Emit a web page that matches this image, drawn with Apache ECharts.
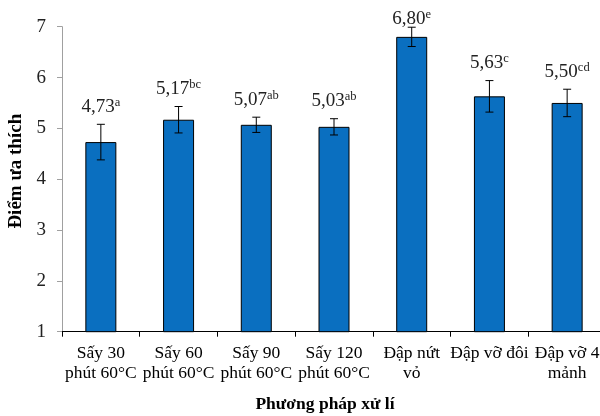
<!DOCTYPE html>
<html>
<head>
<meta charset="utf-8">
<script src="https://cdn.jsdelivr.net/npm/echarts@6/dist/echarts.min.js"></script>
<style>html,body{margin:0;padding:0;background:#fff}#c{width:600px;height:416px}</style>
</head>
<body>
<div id="c"></div>
<script>
const categories = ['Sấy 30\nphút 60°C', 'Sấy 60\nphút 60°C', 'Sấy 90\nphút 60°C', 'Sấy 120\nphút 60°C', 'Đập nứt\nvỏ', 'Đập vỡ đôi', 'Đập vỡ 4\nmảnh'];
const means = [4.73, 5.17, 5.07, 5.03, 6.80, 5.63, 5.50];
const errors = [0.35, 0.26, 0.15, 0.16, 0.19, 0.31, 0.27];
const letters = ['a', 'bc', 'ab', 'ab', 'e', 'c', 'cd'];
const yTicks = [1, 7, 1];

const FONT = '"Liberation Serif", "Times New Roman", serif';
const chart = echarts.init(document.getElementById('c'), null, {renderer: 'canvas'});

const errData = means.map((v, i) => [i, v, errors[i]]);

chart.setOption({
  animation: false,
  grid: {left: 62, top: 26.7, width: 544, bottom: 84.3, containLabel: false, outerBoundsMode: 'none'},
  xAxis: {
    type: 'category',
    data: categories,
    axisLine: {lineStyle: {color: '#000', width: 1}},
    axisTick: {show: true, alignWithLabel: false, length: 5, lineStyle: {color: '#000'}},
    axisLabel: {interval: 0, fontFamily: FONT, fontSize: 17.5, color: '#000', lineHeight: 20, margin: 12},
    name: 'Phương pháp xử lí',
    nameLocation: 'middle',
    nameGap: 64,
    nameTextStyle: {fontFamily: FONT, fontSize: 17.5, fontWeight: 'bold', color: '#000', padding: [0, 18, 0, 0]}
  },
  yAxis: {
    type: 'value',
    min: yTicks[0], max: yTicks[1], interval: yTicks[2],
    splitLine: {show: false},
    axisLine: {show: true, lineStyle: {color: '#a0a0a0'}},
    axisTick: {show: true, length: 5, lineStyle: {color: '#a0a0a0'}},
    axisLabel: {fontFamily: FONT, fontSize: 19, color: '#222', margin: 16},
    name: 'Điểm ưa thích',
    nameLocation: 'middle',
    nameGap: 36,
    nameTextStyle: {fontFamily: FONT, fontSize: 19, fontWeight: 'bold', color: '#000', padding: [0, 0, 0, 16]}
  },
  series: [
    {
      type: 'bar',
      data: means,
      barWidth: 31,
      itemStyle: {color: '#0a6fc0', borderColor: '#000', borderWidth: 1}
    },
    {
      type: 'custom',
      data: errData,
      encode: {x: 0, y: 1},
      z: 10,
      renderItem: function (params, api) {
        const i = api.value(0), v = api.value(1), e = api.value(2);
        const hi = api.coord([i, v + e]);
        const lo = api.coord([i, v - e]);
        const cap = 4;
        const topLimit = params.coordSys.y + 2;
        const labelY = Math.max(hi[1] - 8, topLimit);
        const txt = '{v|' + v.toFixed(2).replace('.', ',') + '}{s|' + letters[params.dataIndex] + '}';
        return {
          type: 'group',
          children: [
            {type: 'line', shape: {x1: hi[0], y1: hi[1], x2: lo[0], y2: lo[1]}, style: {stroke: '#000', lineWidth: 1}},
            {type: 'line', shape: {x1: hi[0] - cap, y1: hi[1], x2: hi[0] + cap, y2: hi[1]}, style: {stroke: '#000', lineWidth: 1}},
            {type: 'line', shape: {x1: lo[0] - cap, y1: lo[1], x2: lo[0] + cap, y2: lo[1]}, style: {stroke: '#000', lineWidth: 1}},
            {
              type: 'text',
              style: {
                text: txt,
                x: hi[0], y: labelY,
                align: 'center', verticalAlign: 'bottom',
                rich: {
                  v: {fontFamily: FONT, fontSize: 19, fill: '#222', lineHeight: 20, verticalAlign: 'bottom'},
                  s: {fontFamily: FONT, fontSize: 12.5, fill: '#222', lineHeight: 20, verticalAlign: 'top', padding: [0, 0, 7, 0]}
                }
              }
            }
          ]
        };
      }
    }
  ]
});
</script>
</body>
</html>
